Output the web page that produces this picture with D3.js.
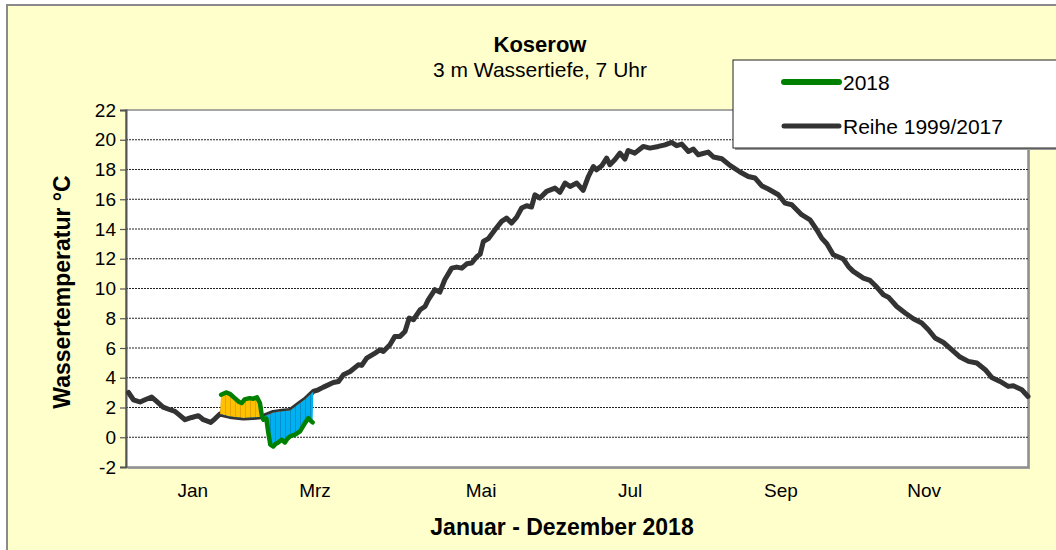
<!DOCTYPE html>
<html>
<head>
<meta charset="utf-8">
<script src="https://cdn.jsdelivr.net/npm/d3@7"></script>
<style>
body { margin: 0; background: #fff; }
text { font-family: "Liberation Sans", Arial, sans-serif; fill: #000; }
</style>
</head>
<body>
<div id="chart"></div>
<script>
// Reihe 1999/2017 (Tag im Jahr, Temperatur)
var reiheTage = [1, 3, 5.7, 7.7, 10.4, 12.4, 15, 17.8, 19.8, 21.9, 23.9, 26.6, 29.3, 31.3, 34.3, 36, 38,
  42, 47.5, 51.5, 55.6, 59.6, 63, 66.4, 70.4, 72.5, 75.8, 77.8, 79.9, 83.9, 86, 88, 90.7, 94, 95.4,
  97.4, 100.8, 102.8, 104.1, 106.8, 108.8, 110.9, 112.9, 114.6, 116.3, 119, 121, 122.3, 125, 127,
  129, 131.8, 133.8, 135.9, 137.9, 139.9, 142, 143.3, 144.6, 146.6, 149.3, 152, 154, 156, 158.1,
  160.1, 162.1, 164.1, 165.5, 167.5, 170.2, 173.6, 175.6, 177.7, 179.7, 182.4, 185, 187.1, 189.1,
  190.4, 192.5, 194.5, 195.8, 197.8, 199.9, 201.9, 203.2, 205.9, 209.3, 212, 215.4, 218.1, 220.8,
  222.8, 224.9, 227.6, 229.6, 231.6, 235.6, 237.7, 241.1, 244.4, 248.5, 251.8, 254.5, 257.2, 259.9,
  264, 266.7, 269.4, 273.4, 276.8, 279.5, 281.5, 283.6, 286.2, 290.3, 292.3, 294.3, 298.4, 301.1,
  303.8, 306.5, 308.5, 311.9, 315.3, 318.6, 322, 324.7, 327.4, 330.8, 334.2, 337.5, 340.9, 344.3,
  347.7, 350.3, 353.7, 357, 359.1, 362.5, 365];
var reiheWerte = [3.01, 2.52, 2.37, 2.52, 2.70, 2.41, 2.03, 1.85, 1.74, 1.45, 1.18, 1.33, 1.45, 1.18, 1.0, 1.24, 1.56,
  1.40, 1.29, 1.33, 1.40, 1.67, 1.75, 1.80, 2.30, 2.55, 3.08, 3.19, 3.37, 3.68, 3.75, 4.20, 4.42, 4.87, 4.83,
  5.32, 5.66, 5.88, 5.77, 6.22, 6.78, 6.78, 7.11, 8.01, 7.90, 8.57, 8.79, 9.24, 9.92, 9.76,
  10.59, 11.37, 11.44, 11.37, 11.66, 11.71, 12.15, 12.30, 13.16, 13.35, 13.95, 14.51, 14.73, 14.40, 14.80,
  15.41, 15.56, 15.48, 16.30, 16.08, 16.53, 16.75, 16.46, 17.09, 16.86, 17.09, 16.59, 17.53, 18.20,
  17.98, 18.25, 18.77, 18.32, 18.66, 19.10, 18.70, 19.28, 19.10, 19.55, 19.44, 19.55, 19.66, 19.82,
  19.60, 19.71, 19.21, 19.37, 18.99, 19.17, 18.84, 18.72, 18.28, 17.83, 17.53, 17.43, 16.91, 16.69,
  16.30, 15.74, 15.63, 14.96, 14.62, 13.95, 13.39, 13.01, 12.27, 11.98, 11.48, 11.15, 10.70, 10.54,
  10.10, 9.58, 9.42, 8.79, 8.35, 7.97, 7.68, 7.23, 6.67, 6.37, 5.88, 5.39, 5.10, 4.99,
  4.54, 4.02, 3.75, 3.42, 3.46, 3.19, 2.74];

// 2018
var tage2018 = [38.5, 40.5, 42, 44, 45.8, 46.8, 48, 50, 51.5, 53, 54.2, 54.9, 55.6, 56.8, 57.5,
  58.4, 59.6, 60.5, 61.6, 63, 64.3, 65.3, 66.4, 68.4, 70.4, 71.5, 72.4, 73.8, 74.5, 75.5];
var werte2018 = [2.86, 3.01, 2.92, 2.63, 2.37, 2.30, 2.55, 2.63, 2.59, 2.68, 2.30, 1.51, 1.18, 1.25, 0.4,
  -0.50, -0.62, -0.45, -0.35, -0.17, -0.35, -0.10, 0.06, 0.17, 0.39, 0.70, 0.95, 1.29, 1.15, 1.0];

var monate = ["Jan", "Mrz", "Mai", "Jul", "Sep", "Nov"];
var monatTage = [27, 76.5, 143.7, 204, 265, 323];
var yTicks = [-2, 0, 2, 4, 6, 8, 10, 12, 14, 16, 18, 20, 22];

var width = 1056, height = 550;
var plot = { left: 126, top: 110, right: 1028, bottom: 467 };

var reihe = reiheTage.map(function(d, i) { return { t: d, v: reiheWerte[i] }; });
var jahr = tage2018.map(function(d, i) { return { t: d, v: werte2018[i] }; });

var x = d3.scaleLinear().domain([0, 365]).range([plot.left, plot.right]);
var y = d3.scaleLinear().domain([-2, 22]).range([plot.bottom, plot.top]);

var svg = d3.select("#chart").append("svg")
  .attr("width", width)
  .attr("height", height);

var defs = svg.append("defs");

// Streifenmuster wie die Excel-Balken
var pGelb = defs.append("pattern").attr("id", "gelb")
  .attr("patternUnits", "userSpaceOnUse").attr("width", 5).attr("height", 10);
pGelb.append("rect").attr("width", 5).attr("height", 10).attr("fill", "#FFC000");
pGelb.append("rect").attr("width", 1).attr("height", 10).attr("fill", "#E3A400");
var pBlau = defs.append("pattern").attr("id", "blau")
  .attr("patternUnits", "userSpaceOnUse").attr("width", 5).attr("height", 10);
pBlau.append("rect").attr("width", 5).attr("height", 10).attr("fill", "#00B0F0");
pBlau.append("rect").attr("width", 1).attr("height", 10).attr("fill", "#0090CC");

var areaOben = d3.area().x(function(d) { return x(d.t); })
  .y0(plot.top).y1(function(d) { return y(d.v); });
var areaUnten = d3.area().x(function(d) { return x(d.t); })
  .y0(plot.bottom).y1(function(d) { return y(d.v); });
defs.append("clipPath").attr("id", "oben").append("path").attr("d", areaOben(reihe));
defs.append("clipPath").attr("id", "unten").append("path").attr("d", areaUnten(reihe));

// Hintergrund / Rahmen
svg.append("rect")
  .attr("x", 7).attr("y", 5)
  .attr("width", 1100).attr("height", 600)
  .attr("fill", "#FFFFCC")
  .attr("stroke", "#8a8a8a")
  .attr("stroke-width", 2);

svg.append("rect")
  .attr("x", plot.left + 2).attr("y", plot.top + 2)
  .attr("width", plot.right - plot.left).attr("height", plot.bottom - plot.top)
  .attr("fill", "#a0a0a0");
svg.append("rect")
  .attr("x", plot.left).attr("y", plot.top)
  .attr("width", plot.right - plot.left).attr("height", plot.bottom - plot.top)
  .attr("fill", "#fff")
  .attr("stroke", "#8a8a8a")
  .attr("stroke-width", 1.5);

// Gitterlinien
svg.append("g").selectAll("line")
  .data(yTicks.filter(function(d) { return d > -2 && d < 22; }))
  .enter().append("line")
  .attr("x1", plot.left).attr("x2", plot.right)
  .attr("y1", function(d) { return y(d); })
  .attr("y2", function(d) { return y(d); })
  .attr("stroke", "#222")
  .attr("stroke-width", 1)
  .attr("stroke-dasharray", "2,1");

// y-Achse
var yAxis = d3.axisLeft(y).tickValues(yTicks).tickSize(6).tickPadding(4)
  .tickFormat(function(d) { return String(d); });
var gy = svg.append("g")
  .attr("transform", "translate(" + plot.left + ",0)")
  .call(yAxis);
gy.select(".domain").attr("stroke", "#555").attr("stroke-width", 2);
gy.selectAll(".tick line").attr("stroke", "#555").attr("stroke-width", 1.2);
gy.selectAll(".tick text")
  .attr("font-size", 19)
  .attr("font-family", "Liberation Sans, Arial, sans-serif")
  .attr("fill", "#000");

// x-Beschriftung (ohne Striche)
svg.append("g").selectAll("text")
  .data(monate)
  .enter().append("text")
  .attr("x", function(d, i) { return x(monatTage[i]); })
  .attr("y", 497)
  .attr("text-anchor", "middle")
  .attr("font-size", 19)
  .text(function(d) { return d; });

// Reihe-Linie
var line = d3.line()
  .x(function(d) { return x(d.t); })
  .y(function(d) { return y(d.v); });

svg.append("path")
  .attr("d", line(reihe))
  .attr("fill", "none")
  .attr("stroke", "#333")
  .attr("stroke-width", 5)
  .attr("stroke-linejoin", "round")
  .attr("stroke-linecap", "round");

// Flaeche zwischen 2018 und Reihe
var t0 = tage2018[0], t1 = tage2018[tage2018.length - 1];
var rueck = reihe.filter(function(d) { return d.t >= t0 - 1 && d.t <= t1 + 0.5; }).reverse();
var poly = jahr.concat(rueck);
var polyPath = line(poly) + "Z";

svg.append("path").attr("d", polyPath)
  .attr("fill", "url(#gelb)").attr("clip-path", "url(#oben)");
svg.append("path").attr("d", polyPath)
  .attr("fill", "url(#blau)").attr("clip-path", "url(#unten)");

svg.append("path")
  .attr("d", line(jahr))
  .attr("fill", "none")
  .attr("stroke", "#008000")
  .attr("stroke-width", 4.5)
  .attr("stroke-linejoin", "round")
  .attr("stroke-linecap", "round");

// Titel
svg.append("text").attr("x", 540).attr("y", 52)
  .attr("text-anchor", "middle").attr("font-size", 22).attr("font-weight", "bold")
  .text("Koserow");
svg.append("text").attr("x", 540).attr("y", 77)
  .attr("text-anchor", "middle").attr("font-size", 21)
  .text("3 m Wassertiefe, 7 Uhr");

svg.append("text").attr("x", 562).attr("y", 535)
  .attr("text-anchor", "middle").attr("font-size", 23).attr("font-weight", "bold")
  .text("Januar - Dezember 2018");

svg.append("text")
  .attr("transform", "translate(70,292) rotate(-90)")
  .attr("text-anchor", "middle").attr("font-size", 23).attr("font-weight", "bold")
  .text("Wassertemperatur °C");

// Legende
var leg = svg.append("g");
leg.append("rect").attr("x", 735).attr("y", 62).attr("width", 340).attr("height", 88)
  .attr("fill", "#9a9a9a");
leg.append("rect").attr("x", 733).attr("y", 60).attr("width", 340).attr("height", 88)
  .attr("fill", "#fff").attr("stroke", "#222").attr("stroke-width", 1);

var legItems = [
  { name: "2018", color: "#008000", w: 6, yy: 82 },
  { name: "Reihe 1999/2017", color: "#333", w: 5, yy: 126 }
];
legItems.forEach(function(d) {
  leg.append("line").attr("x1", 784).attr("x2", 839)
    .attr("y1", d.yy).attr("y2", d.yy)
    .attr("stroke", d.color).attr("stroke-width", d.w).attr("stroke-linecap", "round");
  leg.append("text").attr("x", 843).attr("y", d.yy + 7.5)
    .attr("font-size", 21).text(d.name);
});
</script>
</body>
</html>
